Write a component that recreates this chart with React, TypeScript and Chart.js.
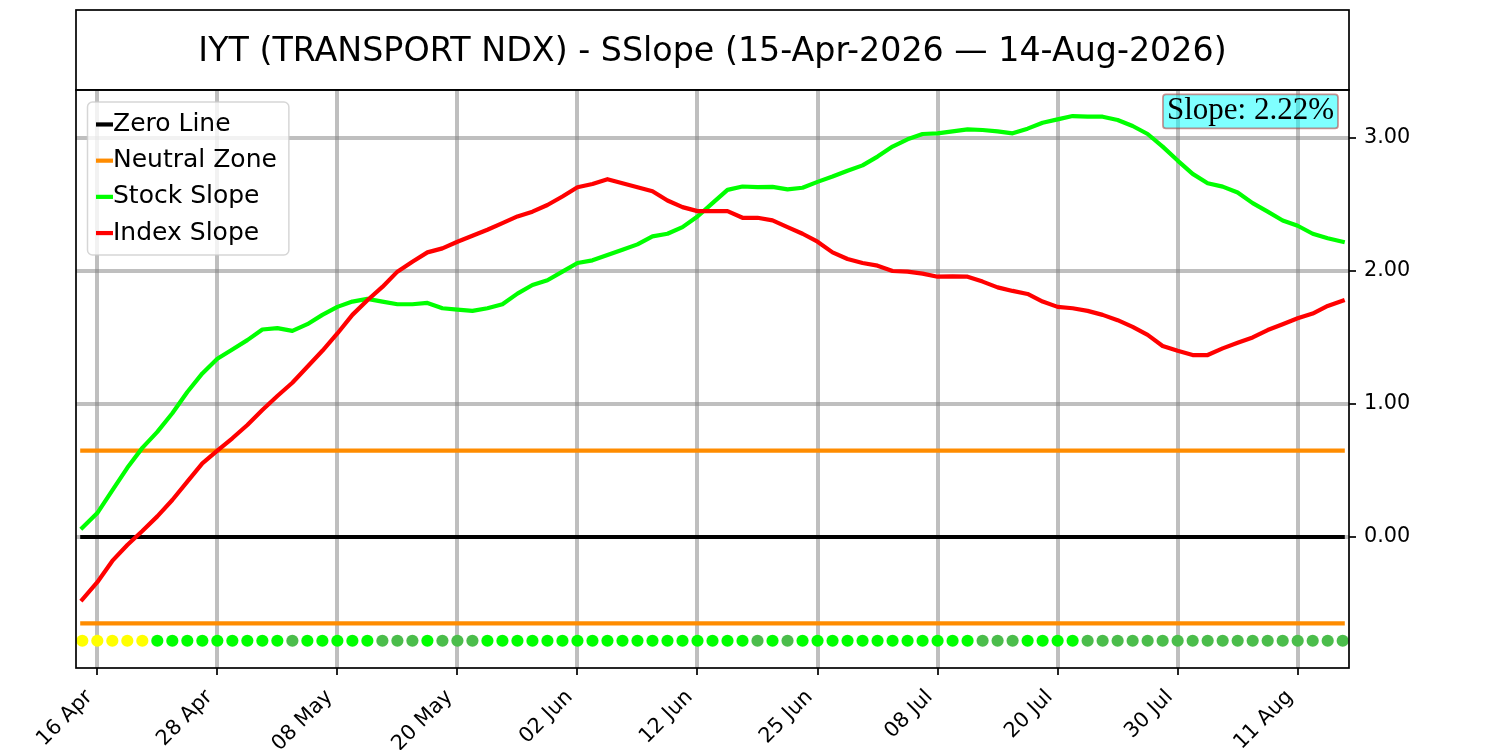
import { useEffect, useRef } from "react";
import { Chart, registerables } from "chart.js";
import type { Plugin } from "chart.js";

Chart.register(...registerables);

const TITLE = "IYT (TRANSPORT NDX) - SSlope (15-Apr-2026 — 14-Aug-2026)";

// trading days, 15 Apr .. 14 Aug
const DATES = [
  "15 Apr", "16 Apr", "17 Apr", "20 Apr", "21 Apr", "22 Apr", "23 Apr", "24 Apr", "27 Apr", "28 Apr",
  "29 Apr", "30 Apr", "01 May", "04 May", "05 May", "06 May", "07 May", "08 May", "11 May", "12 May",
  "13 May", "14 May", "15 May", "18 May", "19 May", "20 May", "21 May", "22 May", "26 May", "27 May",
  "28 May", "29 May", "01 Jun", "02 Jun", "03 Jun", "04 Jun", "05 Jun", "08 Jun", "09 Jun", "10 Jun",
  "11 Jun", "12 Jun", "15 Jun", "16 Jun", "17 Jun", "18 Jun", "22 Jun", "23 Jun", "24 Jun", "25 Jun",
  "26 Jun", "29 Jun", "30 Jun", "01 Jul", "02 Jul", "06 Jul", "07 Jul", "08 Jul", "09 Jul", "10 Jul",
  "13 Jul", "14 Jul", "15 Jul", "16 Jul", "17 Jul", "20 Jul", "21 Jul", "22 Jul", "23 Jul", "24 Jul",
  "27 Jul", "28 Jul", "29 Jul", "30 Jul", "31 Jul", "03 Aug", "04 Aug", "05 Aug", "06 Aug", "07 Aug",
  "10 Aug", "11 Aug", "12 Aug", "13 Aug", "14 Aug",
];

const X_TICK_LABELS = [
  "16 Apr", "28 Apr", "08 May", "20 May", "02 Jun", "12 Jun",
  "25 Jun", "08 Jul", "20 Jul", "30 Jul", "11 Aug",
];

const Y_TICKS = [0, 1, 2, 3];

const STOCK_SLOPE = [
  0.07, 0.18, 0.35, 0.52, 0.67, 0.79, 0.93, 1.09, 1.23, 1.34,
  1.41, 1.48, 1.56, 1.57, 1.55, 1.6, 1.67, 1.73, 1.77, 1.79,
  1.77, 1.75, 1.75, 1.76, 1.72, 1.71, 1.7, 1.72, 1.75, 1.83,
  1.895, 1.93, 1.995, 2.06, 2.08, 2.12, 2.16, 2.2, 2.26, 2.28,
  2.33, 2.41, 2.51, 2.61, 2.635, 2.63, 2.632, 2.614, 2.626, 2.67,
  2.71, 2.754, 2.794, 2.86, 2.935, 2.99, 3.03, 3.035, 3.05, 3.065,
  3.06, 3.05, 3.035, 3.07, 3.115, 3.14, 3.165, 3.16, 3.16, 3.135,
  3.09, 3.03, 2.935, 2.83, 2.73, 2.66, 2.634, 2.59, 2.51, 2.446,
  2.38, 2.34, 2.28, 2.246, 2.22,
];

const INDEX_SLOPE = [
  -0.47, -0.34, -0.18, -0.06, 0.045, 0.155, 0.278, 0.416, 0.554, 0.649,
  0.742, 0.842, 0.955, 1.06, 1.16, 1.28, 1.4, 1.53, 1.67, 1.78,
  1.88, 1.995, 2.07, 2.14, 2.17, 2.22, 2.265, 2.31, 2.36, 2.41,
  2.446, 2.496, 2.56, 2.63, 2.654, 2.69, 2.66, 2.63, 2.6, 2.53,
  2.48, 2.45, 2.45, 2.45, 2.4, 2.4, 2.38, 2.33, 2.28, 2.22,
  2.14, 2.09, 2.06, 2.04, 2.0, 1.995, 1.98, 1.957, 1.96, 1.957,
  1.92, 1.877, 1.85, 1.827, 1.77, 1.73, 1.72, 1.7, 1.67, 1.63,
  1.58, 1.52, 1.436, 1.4, 1.368, 1.368, 1.418, 1.46, 1.5, 1.556,
  1.6, 1.644, 1.68, 1.737, 1.777,
];

// Y = yellow, G = strong green, D = weaker green
const SIGNAL = [
  "Y", "Y", "Y", "Y", "Y", "G", "G", "G", "G", "G",
  "G", "G", "G", "G", "D", "G", "G", "G", "G", "G",
  "D", "D", "D", "G", "D", "D", "D", "G", "G", "G",
  "G", "G", "G", "G", "G", "G", "G", "G", "G", "G",
  "G", "G", "G", "G", "G", "D", "G", "D", "G", "G",
  "G", "G", "G", "G", "G", "G", "G", "G", "G", "G",
  "D", "D", "D", "G", "G", "G", "G", "D", "D", "D",
  "D", "D", "D", "D", "D", "D", "D", "D", "D", "D",
  "D", "D", "D", "D", "D",
];

const ZERO_LEVEL = 0;
const NEUTRAL_LEVEL = 0.65;
const SIGNAL_LEVEL = -0.78;

const SIGNAL_COLORS: Record<string, string> = {
  Y: "#ffff00",
  G: "#00ff00",
  D: "#4bbd4b",
};

const FONT = "'DejaVu Sans', sans-serif";

const flat = (v: number) => DATES.map((_, i) => ({ x: i, y: v }));
const series = (arr: number[]) => arr.map((y, i) => ({ x: i, y }));

const framePlugin: Plugin<"line"> = {
  id: "frames",
  afterDraw(chart) {
    const { ctx, chartArea: a } = chart;
    ctx.save();
    ctx.strokeStyle = "#000";
    ctx.lineWidth = 1.7;
    ctx.strokeRect(a.left, a.top, a.right - a.left, a.bottom - a.top);
    ctx.strokeRect(a.left, 10, a.right - a.left, a.top - 10);
    ctx.restore();
  },
};

const legendPlugin: Plugin<"line"> = {
  id: "boxLegend",
  afterDatasetsDraw(chart) {
    const { ctx, chartArea: a } = chart;
    const items = chart.data.datasets.filter((d) => d.label);
    ctx.save();
    ctx.font = `25px ${FONT}`;
    const textW = Math.max(...items.map((d) => ctx.measureText(d.label as string).width));
    const x = a.left + 11.5;
    const y = a.top + 12;
    const w = 25.5 + textW + 12;
    const h = 21 + 36 * (items.length - 1) + 24;
    ctx.beginPath();
    ctx.roundRect(x, y, w, h, 5);
    ctx.fillStyle = "rgba(255,255,255,0.8)";
    ctx.fill();
    ctx.strokeStyle = "rgba(204,204,204,0.8)";
    ctx.lineWidth = 1.5;
    ctx.stroke();
    items.forEach((d, k) => {
      const cy = y + 22.5 + 36.2 * k;
      ctx.strokeStyle = d.borderColor as string;
      ctx.lineWidth = 4.2;
      ctx.lineCap = "butt";
      ctx.beginPath();
      ctx.moveTo(x + 8.5, cy);
      ctx.lineTo(x + 25.5, cy);
      ctx.stroke();
      ctx.fillStyle = "#000";
      ctx.textAlign = "left";
      ctx.textBaseline = "middle";
      ctx.fillText(d.label as string, x + 25.5, cy);
    });
    ctx.restore();
  },
};

const slopePlugin: Plugin<"line"> = {
  id: "slopeBox",
  afterDatasetsDraw(chart) {
    const { ctx, chartArea: a } = chart;
    const last = STOCK_SLOPE[STOCK_SLOPE.length - 1];
    const text = `Slope: ${last.toFixed(2)}%`;
    ctx.save();
    ctx.font = "31px 'Liberation Serif', serif";
    const tw = ctx.measureText(text).width;
    const right = a.right - 11;
    const top = a.top + 4.5;
    const w = tw + 8;
    const h = 34;
    ctx.beginPath();
    ctx.roundRect(right - w, top, w, h, 3);
    ctx.fillStyle = "rgba(0,255,255,0.5)";
    ctx.fill();
    ctx.strokeStyle = "rgba(178,34,34,0.5)";
    ctx.lineWidth = 1.7;
    ctx.stroke();
    ctx.fillStyle = "#000";
    ctx.textAlign = "right";
    ctx.textBaseline = "alphabetic";
    ctx.fillText(text, right - 4, top + 25);
    ctx.restore();
  },
};

export default function App() {
  const canvasRef = useRef<HTMLCanvasElement>(null);

  useEffect(() => {
    document.body.style.margin = "0";
    if (!canvasRef.current) return;
    const ctx = canvasRef.current.getContext("2d") as CanvasRenderingContext2D;

    const lineStyle = {
      pointRadius: 0,
      borderWidth: 4.2,
      borderCapStyle: "square" as const,
      borderJoinStyle: "round" as const,
      tension: 0,
      fill: false,
    };

    const chart = new Chart(ctx, {
      type: "line",
      data: {
        datasets: [
          { ...lineStyle, label: "Zero Line", data: flat(ZERO_LEVEL), borderColor: "#000000", order: 6 },
          { ...lineStyle, label: "Neutral Zone", data: flat(NEUTRAL_LEVEL), borderColor: "#ff8c00", order: 5 },
          { ...lineStyle, label: "", data: flat(-NEUTRAL_LEVEL), borderColor: "#ff8c00", order: 4 },
          { ...lineStyle, label: "Stock Slope", data: series(STOCK_SLOPE), borderColor: "#00ff00", order: 3 },
          { ...lineStyle, label: "Index Slope", data: series(INDEX_SLOPE), borderColor: "#ff0000", order: 2 },
          {
            label: "",
            data: flat(SIGNAL_LEVEL),
            showLine: false,
            pointRadius: 6.1,
            pointBorderWidth: 0,
            pointBackgroundColor: SIGNAL.map((s) => SIGNAL_COLORS[s]),
            borderColor: "transparent",
            order: 1,
          },
        ],
      },
      options: {
        responsive: false,
        animation: false,
        layout: { padding: { top: 10, left: 76, right: 0, bottom: 0 } },
        plugins: {
          legend: { display: false },
          tooltip: { enabled: false },
          title: {
            display: true,
            text: TITLE,
            fullSize: false,
            color: "#000",
            font: { family: FONT, size: 33.3, weight: "normal" },
            padding: { top: 22.5, bottom: 17.5 },
          },
        },
        scales: {
          x: {
            type: "linear",
            min: -0.42,
            max: DATES.length - 1 + 0.42,
            afterBuildTicks: (scale) => {
              scale.ticks = X_TICK_LABELS.map((l) => ({ value: DATES.indexOf(l) }));
            },
            afterFit: (scale) => {
              scale.height = 82;
            },
            ticks: {
              autoSkip: false,
              minRotation: 45,
              maxRotation: 45,
              padding: 10,
              labelOffset: -8,
              color: "#000",
              font: { family: FONT, size: 20.8 },
              callback: (v) => DATES[Number(v)],
            },
            grid: {
              color: "rgba(128,128,128,0.5)",
              lineWidth: 4,
              tickLength: 7,
              tickWidth: 1.7,
              tickColor: "#000",
            },
            border: { display: false },
          },
          y: {
            type: "linear",
            position: "right",
            min: -0.985,
            max: 3.361,
            afterBuildTicks: (scale) => {
              scale.ticks = Y_TICKS.map((v) => ({ value: v }));
            },
            afterFit: (scale) => {
              scale.width = 151;
            },
            ticks: {
              padding: 8,
              color: "#000",
              font: { family: FONT, size: 20.8 },
              callback: (v) => Number(v).toFixed(2),
            },
            grid: {
              color: "rgba(128,128,128,0.5)",
              lineWidth: 4,
              tickLength: 7,
              tickWidth: 1.7,
              tickColor: "#000",
            },
            border: { display: false },
          },
        },
      },
      plugins: [legendPlugin, slopePlugin, framePlugin],
    });

    return () => {
      chart.destroy();
    };
  }, []);

  return (
    <div style={{ width: 1500, height: 750 }}>
      <canvas ref={canvasRef} width={1500} height={750} style={{ width: 1500, height: 750 }} />
    </div>
  );
}
